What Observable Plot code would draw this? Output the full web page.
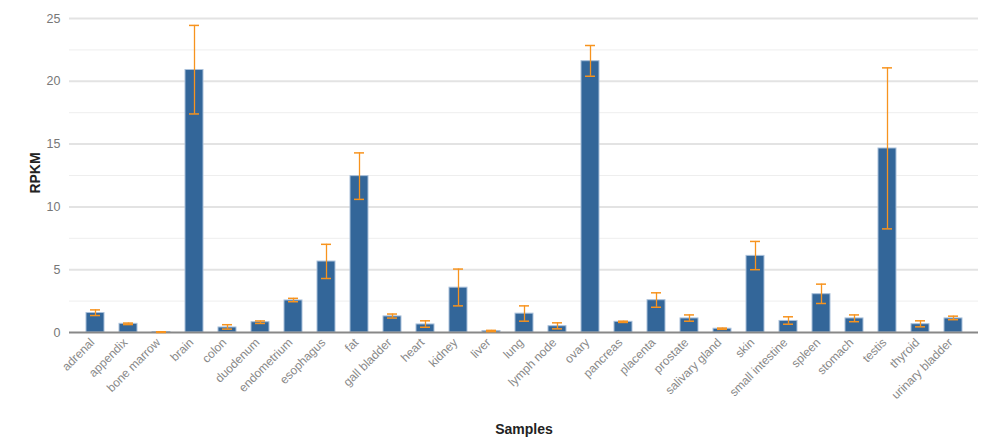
<!DOCTYPE html>
<html><head><meta charset="utf-8">
<script src="https://cdn.jsdelivr.net/npm/d3@7"></script>
<script src="https://cdn.jsdelivr.net/npm/@observablehq/plot@0.6"></script>
<style>
html,body{margin:0;padding:0;background:#fff;}
#chart{position:relative;width:992px;height:443px;}
</style>
</head><body><div id="chart"></div>
<script>
const samples = ["adrenal","appendix","bone marrow","brain","colon","duodenum","endometrium","esophagus","fat","gall bladder","heart","kidney","liver","lung","lymph node","ovary","pancreas","placenta","prostate","salivary gland","skin","small intestine","spleen","stomach","testis","thyroid","urinary bladder"];
const rpkm =    [1.55,0.69,0.03,20.9,0.40,0.82,2.55,5.65,12.45,1.28,0.64,3.57,0.12,1.50,0.50,21.6,0.85,2.57,1.12,0.30,6.1,0.92,3.05,1.12,14.65,0.66,1.12];
const errLow =  [1.35,0.63,0.00,17.4,0.27,0.72,2.45,4.30,10.6,1.15,0.42,2.12,0.07,0.90,0.29,20.4,0.80,2.01,0.90,0.25,5.0,0.66,2.31,0.86,8.25,0.45,1.02];
const errHigh = [1.80,0.75,0.06,24.45,0.62,0.92,2.72,7.02,14.3,1.47,0.93,5.05,0.17,2.12,0.77,22.85,0.90,3.16,1.40,0.35,7.25,1.25,3.85,1.40,21.07,0.93,1.30];
const majorTicks = [0,5,10,15,20,25];
const minorTicks = [2.5,7.5,12.5,17.5,22.5];

const data = samples.map((s,i)=>({sample:s, value:rpkm[i], lo:errLow[i], hi:errHigh[i]}));
const font = "'Liberation Sans', Arial, sans-serif";

const chart = Plot.plot({
  width: 992, height: 443,
  marginLeft: 69, marginRight: 14, marginTop: 18, marginBottom: 111,
  style: {fontFamily: font, fontSize: "12px", background: "#fff"},
  x: {domain: samples, paddingInner: 0.46, paddingOuter: 0.23, align: 0.5, label: null},
  y: {domain: [0,25], label: null},
  marks: [
    Plot.ruleY(minorTicks, {stroke: "#eeeeee", strokeWidth: 1}),
    Plot.ruleY(majorTicks.filter(d=>d>0), {stroke: "#e3e3e3", strokeWidth: 2}),
    Plot.barY(data, {x: "sample", y: "value", fill: "#336699", stroke: "#a9c0da", strokeWidth: 1}),
    Plot.ruleY([0], {stroke: "#888", strokeWidth: 2}),
    Plot.ruleX(data, {x: "sample", y1: "lo", y2: "hi", stroke: "#f7931e", strokeWidth: 1.3}),
    Plot.tickY(data, {x: "sample", y: "hi", stroke: "#f7931e", strokeWidth: 1.5, insetLeft: 4, insetRight: 4}),
    Plot.tickY(data, {x: "sample", y: "lo", stroke: "#f7931e", strokeWidth: 1.5, insetLeft: 4, insetRight: 4}),
    Plot.axisY({ticks: majorTicks, tickSize: 0, tickPadding: 9, fill: "#777", fontSize: 12.5, label: null}),
    Plot.axisX({tickSize: 0, tickPadding: 8, dx: -3, tickRotate: -45, fill: "#888", fontSize: 12, label: null}),
    Plot.text(["RPKM"], {frameAnchor: "left", dx: -34, y: [12.7], rotate: -90, textAnchor: "middle", fontWeight: "bold", fontSize: 14, fill: "#222"}),
    Plot.text(["Samples"], {frameAnchor: "bottom", dy: 101, fontWeight: "bold", fontSize: 14, fill: "#222"})
  ]
});
document.getElementById("chart").appendChild(chart);
</script>
</body></html>
